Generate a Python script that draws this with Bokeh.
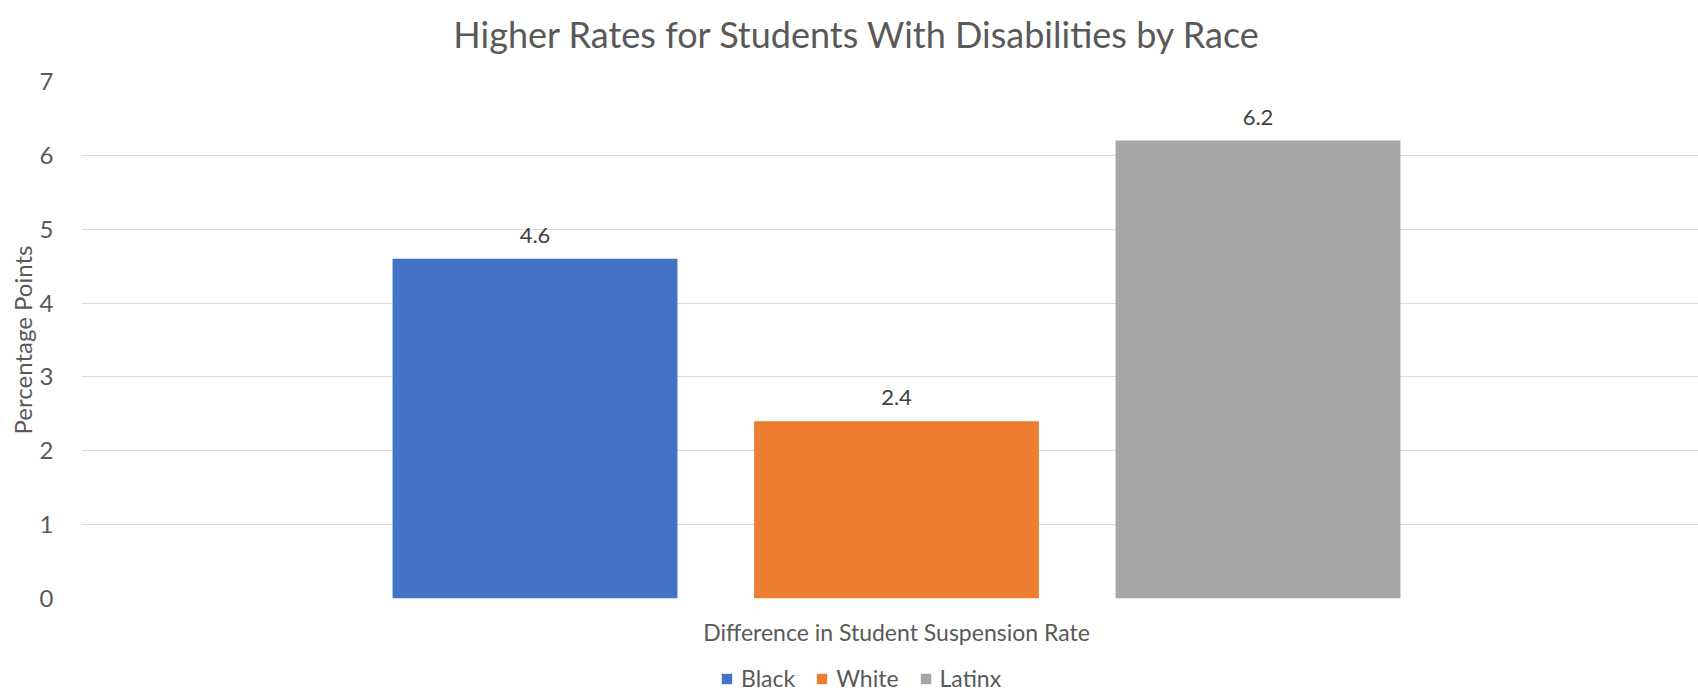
from bokeh.plotting import figure
from bokeh.layouts import column
from bokeh.models import Range1d, FixedTicker, ColumnDataSource, Legend, LegendItem, LabelSet, Label
from bokeh.core.properties import value
from bokeh.embed import file_html
from bokeh.resources import INLINE

title = "Higher Rates for Students With Disabilities by Race"
group_label = "Difference in Student Suspension Rate"
categories = ["Black", "White", "Latinx"]
values = [4.6, 2.4, 6.2]
colors = ["#4472C4", "#ED7D31", "#A5A5A5"]
y_ticks = [0, 1, 2, 3, 4, 5, 6, 7]

FONT = "Lato"
TXT = "#595959"
W = 1698
LEFT = 81
HEAD_H, MAIN_H, LEG_H = 65, 591, 36
positions = list(range(len(categories)))
center = sum(positions) / len(positions)

src = ColumnDataSource(dict(x=positions, top=values, color=colors, cat=categories,
                            lbl=[f"{v:.1f}" for v in values]))


def strip(h):
    # frames in a column are aligned with the main chart's frame (page x LEFT..W)
    f = figure(width=W, height=h, output_backend="svg", toolbar_location=None,
               x_range=Range1d(LEFT, W), y_range=Range1d(0, h),
               min_border_left=0, min_border_right=0, min_border_top=0, min_border_bottom=0)
    f.axis.visible = False
    f.grid.visible = False
    f.outline_line_color = None
    return f


# title strip
hf = strip(HEAD_H)
hf.add_layout(Label(x=857, y=HEAD_H - 33, text=title, text_align="center", text_baseline="middle",
                    text_font=FONT, text_font_size="36px", text_color=TXT))

# main chart
p = figure(width=W, height=MAIN_H, output_backend="svg", toolbar_location=None,
           x_range=Range1d(center - 2.2545, center + 2.2185), y_range=Range1d(0, 7),
           min_border_left=LEFT, min_border_right=0, min_border_top=16, min_border_bottom=58)
p.outline_line_color = None
p.background_fill_color = "white"

r = p.vbar(x="x", top="top", width=0.788, fill_color="color", line_color=None, source=src)

labels = LabelSet(x="x", y="top", text="lbl", source=src, text_align="center",
                  text_baseline="bottom", y_offset=16, text_font_size="22px",
                  text_color="#404040", text_font=value(FONT))
p.add_layout(labels)

p.yaxis.ticker = FixedTicker(ticks=y_ticks)
p.ygrid.ticker = FixedTicker(ticks=y_ticks)
p.yaxis.axis_line_color = None
p.yaxis.major_tick_line_color = None
p.yaxis.minor_tick_line_color = None
p.yaxis.major_label_standoff = 22
p.yaxis.major_label_text_font = FONT
p.yaxis.major_label_text_font_size = "24px"
p.yaxis.major_label_text_color = TXT
p.yaxis.axis_label = "Percentage Points"
p.yaxis.axis_label_text_font = FONT
p.yaxis.axis_label_text_font_size = "24px"
p.yaxis.axis_label_text_font_style = "normal"
p.yaxis.axis_label_text_color = TXT
p.yaxis.axis_label_standoff = 0

p.xaxis.ticker = FixedTicker(ticks=[center])
p.xaxis.major_label_overrides = {center: group_label}
p.xaxis.axis_line_color = None
p.xaxis.major_tick_line_color = None
p.xaxis.minor_tick_line_color = None
p.xaxis.major_label_standoff = 13
p.xaxis.major_label_text_font = FONT
p.xaxis.major_label_text_font_size = "23px"
p.xaxis.major_label_text_color = TXT

p.xgrid.grid_line_color = None
p.ygrid.grid_line_color = "#D9D9D9"
p.ygrid.grid_line_width = 1

# legend strip
lf = strip(LEG_H)
lf.y_range = Range1d(1000, 1001)
lr = lf.vbar(x="x", top="top", width=0.788, fill_color="color", line_color=None, source=src)
items = [LegendItem(label=c, renderers=[lr], index=i) for i, c in enumerate(categories)]
legend = Legend(items=items, orientation="horizontal", location=(720 - LEFT, 0),
                label_text_font=FONT, label_text_font_size="23px", label_text_color=TXT,
                glyph_width=13, glyph_height=13, spacing=20, label_standoff=8,
                border_line_color=None, background_fill_alpha=0, padding=0, margin=0)
lf.add_layout(legend, "center")

layout = column(hf, p, lf, spacing=0)
open("out.html", "w").write(file_html(layout, INLINE))
